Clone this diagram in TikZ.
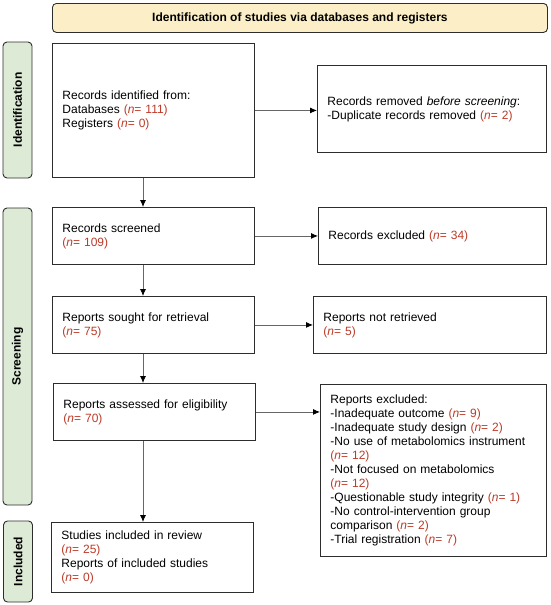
\documentclass[tikz,border=0pt]{standalone}
\usepackage {fontspec}
\setmainfont{Liberation Sans}
\usepackage {tikz}
\usetikzlibrary{arrows.meta,positioning}
\usepackage {color}
\definecolor {nrot}{RGB}{188,58,40}
\definecolor {creme}{RGB}{252,239,200}
\definecolor {gruen}{RGB}{221,234,213}
\definecolor {rand}{RGB}{45,45,45}
\newcommand{\nval}[1]{\textcolor{nrot}{(\textit{n}= #1)}}

\begin{document}
\begin{tikzpicture}[x=1pt, y=-1pt,
                      every node/.style = {
                        font=\fontsize{12}{14}\selectfont
                      },
                      banner/.style = {
                        draw=rand, line width=0.9pt, fill=creme,
                        rounded corners=4pt, anchor=north west,
                        minimum width=495pt, minimum height=29pt,
                        font=\fontsize{12}{14}\selectfont\bfseries
                      },
                      phase/.style = {
                        draw=rand, line width=0.9pt, fill=gruen,
                        rounded corners=4pt, rotate=90,
                        minimum height=29pt, inner sep=0pt,
                        font=\fontsize{12}{14}\selectfont\bfseries
                      },
                      record/.style = {
                        draw=rand, line width=0.9pt, anchor=north west,
                        align=left, inner xsep=10pt, inner ysep=2pt
                      },
                      flow/.style = {
                        draw=black!60, line width=0.8pt,
                        -{Latex[length=7pt, width=6pt, color=black]}
                      }]
    \useasboundingbox (0,0) rectangle (550,605);

    % header and phases
    \node(header)[banner] at (52,3) {Identification of studies via databases and registers};
    \node(identphase)[phase, minimum width=136pt] at (17.5,110) {Identification};
    \node(screenphase)[phase, minimum width=297pt] at (17.5,356.5) {Screening};
    \node(inclphase)[phase, minimum width=81pt] at (18,561.5) {Included};

    % main column
    \node(identified)[record, text width=182pt, minimum height=134pt] at (52,43)
        {Records identified from:\\ Databases \nval{111}\\ Registers \nval{0}};
    \node(screened)[record, text width=182pt, minimum height=57pt] at (52,207)
        {Records screened\\ \nval{109}};
    \node(sought)[record, text width=182pt, minimum height=57pt] at (52,296)
        {Reports sought for retrieval\\ \nval{75}};
    \node(assessed)[record, text width=182pt, minimum height=57pt] at (53,383)
        {Reports assessed for eligibility\\ \nval{70}};
    \node(included)[record, text width=182pt, minimum height=70pt] at (51,522)
        {Studies included in review\\ \nval{25}\\ Reports of included studies\\ \nval{0}};

    % side column
    \node(removed)[record, text width=209pt, minimum height=87pt] at (317,65)
        {Records removed \textit{before screening}:\\ -Duplicate records removed \nval{2}};
    \node(excluded)[record, text width=208pt, minimum height=57pt] at (318,207)
        {Records excluded \nval{34}};
    \node(notretrieved)[record, text width=213pt, minimum height=57pt] at (313,296)
        {Reports not retrieved\\ \nval{5}};
    \node(reportsout)[record, text width=206pt, minimum height=172pt] at (320,384)
        {Reports excluded:\\
         -Inadequate outcome \nval{9}\\
         -Inadequate study design \nval{2}\\
         -No use of metabolomics instrument\\ \nval{12}\\
         -Not focused on metabolomics\\ \nval{12}\\
         -Questionable study integrity \nval{1}\\
         -No control-intervention group\\ comparison \nval{2}\\
         -Trial registration \nval{7}};

    \coordinate (spine) at (143,0);

    \draw[flow] (identified.south -| spine) -- (screened.north -| spine);
    \draw[flow] (screened.south -| spine) -- (sought.north -| spine);
    \draw[flow] (sought.south -| spine) -- (assessed.north -| spine);
    \draw[flow] (assessed.south -| spine) -- (included.north -| spine);

    \draw[flow] (identified.east) -- (identified.east -| removed.west);
    \draw[flow] (screened.east) -- (screened.east -| excluded.west);
    \draw[flow] (sought.east) -- (sought.east -| notretrieved.west);
    \draw[flow] (assessed.east) -- (assessed.east -| reportsout.west);
  \end{tikzpicture}
\end{document}
